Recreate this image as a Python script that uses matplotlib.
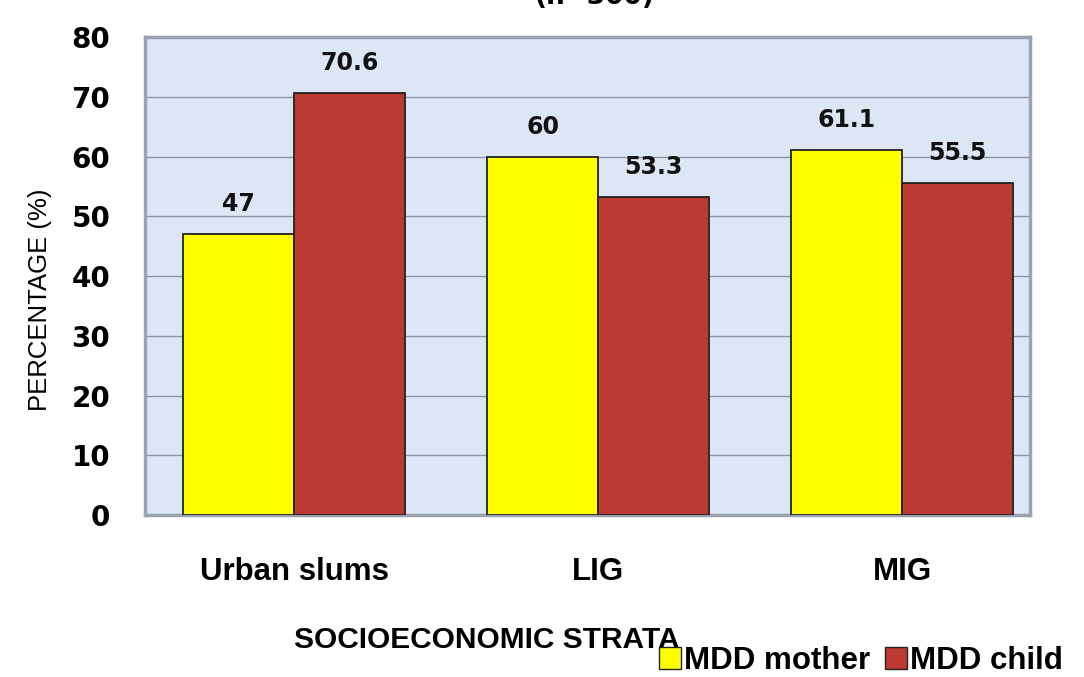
import matplotlib
matplotlib.use('Agg')
import matplotlib.pyplot as plt
import numpy as np
from matplotlib.patches import Patch

plt.rcParams['font.family'] = ['DejaVu Sans']
txt_font = 'Liberation Sans'

categories = ['Urban slums', 'LIG', 'MIG']
mother = [47, 60, 61.1]
child = [70.6, 53.3, 55.5]
mother_labels = ['47', '60', '61.1']
child_labels = ['70.6', '53.3', '55.5']
yticks = [0, 10, 20, 30, 40, 50, 60, 70, 80]

fig = plt.figure(figsize=(10.84, 6.77), dpi=100)
ax = fig.add_axes([0.1338, 0.2393, 0.8162, 0.706])
ax.set_facecolor('#dde6f5')

x = np.arange(len(categories))
w = 0.364
b1 = ax.bar(x - w / 2, mother, w, color='#ffff00', edgecolor='#222222', linewidth=1.3, zorder=3)
b2 = ax.bar(x + w / 2, child, w, color='#bc3a33', edgecolor='#222222', linewidth=1.3, zorder=3)

for rect, lab in zip(b1, mother_labels):
    ax.text(rect.get_x() + rect.get_width() / 2, rect.get_height() + 3.0, lab,
            ha='center', va='bottom', fontsize=17, fontweight='bold', color='#111111')
for rect, lab in zip(b2, child_labels):
    ax.text(rect.get_x() + rect.get_width() / 2, rect.get_height() + 3.0, lab,
            ha='center', va='bottom', fontsize=17, fontweight='bold', color='#111111')

ax.set_ylim(0, 80)
ax.set_xlim(-0.49, 2.42)
ax.set_yticks(yticks)
ax.set_yticklabels([str(t) for t in yticks], fontsize=20, fontweight='bold')
ax.set_xticks(x)
ax.set_xticklabels(categories, fontsize=22.5, fontweight='bold', family=txt_font)
ax.tick_params(axis='y', length=0, pad=25)
ax.tick_params(axis='x', length=0, pad=30)
ax.yaxis.grid(True, color='#8a96a8', linewidth=1.0, zorder=1)
for s in ax.spines.values():
    s.set_color('#9aa3b2')
    s.set_linewidth(2.5)

ax.set_ylabel('PERCENTAGE (%)', fontsize=18.5, family=txt_font)
ax.yaxis.set_label_coords(-0.105, 0.45)
ax.set_xlabel('SOCIOECONOMIC STRATA', fontsize=21.5, fontweight='bold', family=txt_font)
ax.xaxis.set_label_coords(0.386, -0.232)

fig.text(0.549, 1 - 4 / 677, '(n=300)', ha='center', va='baseline', fontsize=19,
         fontweight='bold')

handles = [Patch(facecolor='#ffff00', edgecolor='#222222'),
           Patch(facecolor='#bc3a33', edgecolor='#222222')]
fig.legend(handles, ['MDD mother', 'MDD child'], loc='lower right',
           bbox_to_anchor=(1.004, -0.036), ncol=2, frameon=False,
           prop={'size': 22.5, 'weight': 'bold', 'family': txt_font},
           handlelength=0.7, handleheight=0.7,
           handletextpad=0.1, columnspacing=0.5, borderpad=0.3)

fig.savefig('out.png', dpi=100)
